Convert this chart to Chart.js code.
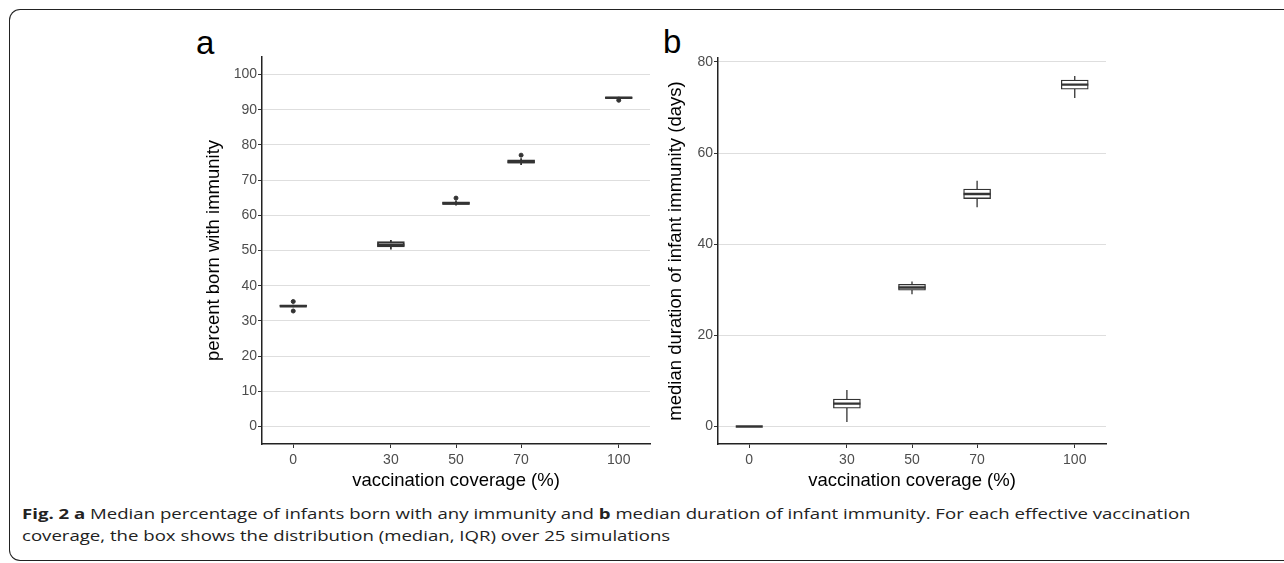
<!DOCTYPE html>
<html>
<head>
<meta charset="utf-8">
<script src="https://cdn.jsdelivr.net/npm/chart.js@4/dist/chart.umd.min.js"></script>
<style>
  body { margin: 0; background: #fff; width: 1284px; height: 563px; overflow: hidden; position: relative; font-family: "Liberation Sans", Arial, sans-serif; }
  .marco { position: absolute; left: 9px; top: 9px; width: 1300px; height: 550px; border: 1.5px solid #222; border-right: none; border-radius: 11px; }
  .letra { position: absolute; font-size: 33px; line-height: 33px; color: #000; }
  canvas { position: absolute; }
  .pie { position: absolute; left: 22px; top: 502px; font-family: "Open Sans", sans-serif; font-size: 15px; line-height: 22px; color: #222; white-space: nowrap; transform: scaleX(1.24); transform-origin: 0 0; }
  .pie b { font-weight: 700; }
</style>
</head>
<body>
<div class="marco"></div>
<div class="letra" style="left:196px; top:26px;">a</div>
<div class="letra" style="left:663px; top:25px;">b</div>
<canvas id="graficoA" width="470" height="472" style="left:195px; top:20px;"></canvas>
<canvas id="graficoB" width="460" height="472" style="left:660px; top:20px;"></canvas>
<div class="pie"><b>Fig. 2 a</b> Median percentage of infants born with any immunity and <b>b</b> median duration of infant immunity. For each effective vaccination<br>coverage, the box shows the distribution (median, IQR) over 25 simulations</div>

<script>
// 1. Datos
const cobertura = [0, 30, 50, 70, 100];

// panel a: porcentaje nacido con inmunidad
const aMin     = [33.9, 50.3, 62.8, 74.3, 93.1];
const aQ1      = [34.1, 51.0, 63.1, 74.8, 93.2];
const aMediana = [34.2, 51.6, 63.4, 75.2, 93.4];
const aQ3      = [34.4, 52.5, 63.8, 75.8, 93.6];
const aMax     = [34.6, 53.0, 64.2, 76.2, 93.7];
const aAtipicos = [[35.5, 32.8], [], [64.9], [77.1], [92.7]];

// panel b: duracion mediana de la inmunidad (dias)
const bMin     = [0, 1.0, 29.0, 48.1, 72.1];
const bQ1      = [0, 4.0, 29.9, 50.0, 74.0];
const bMediana = [0, 5.0, 30.5, 51.0, 75.0];
const bQ3      = [0, 6.0, 31.2, 52.1, 76.0];
const bMax     = [0, 8.0, 31.8, 53.9, 76.9];
const bAtipicos = [[], [], [], [], []];

const ticksX = [0, 30, 50, 70, 100];
const ticksYA = [0, 10, 20, 30, 40, 50, 60, 70, 80, 90, 100];
const ticksYB = [0, 20, 40, 60, 80];

const mediaCaja = 4.15; // media anchura de la caja en unidades de x

// 2. Construccion de datasets
function segmentos(desde, hasta, fx1, fx2) {
    const puntos = [];
    cobertura.forEach(function(c, i) {
        puntos.push({ x: fx1(c), y: desde[i] });
        puntos.push({ x: fx2(c), y: hasta[i] });
        puntos.push({ x: c, y: null });
    });
    return puntos;
}

function crearGrafico(id, d) {
    const ctx = document.getElementById(id).getContext('2d');
    const atipicos = [];
    d.atipicos.forEach(function(lista, i) {
        lista.forEach(function(v) { atipicos.push({ x: cobertura[i], y: v }); });
    });

    return new Chart(ctx, {
        data: {
            datasets: [
                {
                    type: 'line',
                    data: segmentos(d.min, d.max, c => c, c => c),
                    borderColor: '#333',
                    borderWidth: d.linea,
                    pointRadius: 0,
                    spanGaps: false,
                    order: 4
                },
                {
                    type: 'bar',
                    data: cobertura.map((c, i) => ({ x: c, y: [d.q1[i], d.q3[i]] })),
                    backgroundColor: '#fff',
                    borderColor: '#333',
                    borderWidth: d.linea,
                    borderSkipped: false,
                    barThickness: 27,
                    order: 3
                },
                {
                    type: 'line',
                    data: segmentos(d.mediana, d.mediana, c => c - mediaCaja, c => c + mediaCaja),
                    borderColor: '#333',
                    borderWidth: d.lineaMediana,
                    pointRadius: 0,
                    spanGaps: false,
                    order: 2
                },
                {
                    type: 'scatter',
                    data: atipicos,
                    backgroundColor: '#333',
                    borderColor: '#333',
                    pointRadius: 2,
                    order: 1
                }
            ]
        },
        options: {
            responsive: false,
            animation: false,
            layout: { padding: { top: d.arriba, right: d.derecha, left: 0, bottom: 0 } },
            plugins: { legend: { display: false }, tooltip: { enabled: false } },
            scales: {
                x: {
                    type: 'linear',
                    min: -9.6,
                    max: 109.6,
                    offset: false,
                    afterBuildTicks: function(scale) { scale.ticks = ticksX.map(v => ({ value: v })); },
                    afterFit: function(scale) { scale.height = 48; },
                    grid: { offset: false, drawOnChartArea: false, tickColor: '#333', tickLength: 4 },
                    border: { display: true, color: '#222', width: 1.5 },
                    ticks: { color: '#4d4d4d', font: { family: 'Liberation Sans', size: 14 }, padding: 4, maxRotation: 0 },
                    title: { display: true, text: 'vaccination coverage (%)', color: '#000', font: { family: 'Liberation Sans', size: 18.5 }, padding: 0 }
                },
                y: {
                    type: 'linear',
                    min: d.yMin,
                    max: d.yMax,
                    afterBuildTicks: function(scale) { scale.ticks = d.ticksY.map(v => ({ value: v })); },
                    afterFit: function(scale) { scale.width = d.anchoY; },
                    grid: { color: '#dedede', lineWidth: 1, tickColor: '#333', tickLength: 4 },
                    border: { display: true, color: '#222', width: 1.5 },
                    ticks: { color: '#4d4d4d', font: { family: 'Liberation Sans', size: 14 }, padding: 1 },
                    title: { display: true, text: d.tituloY, color: '#000', font: { family: 'Liberation Sans', size: 18.5 }, padding: { top: d.padTitulo, bottom: 0 } }
                }
            }
        }
    });
}

// 3. Graficos
crearGrafico('graficoA', {
    min: aMin, q1: aQ1, mediana: aMediana, q3: aQ3, max: aMax, atipicos: aAtipicos,
    yMin: -5, yMax: 105, ticksY: ticksYA, tituloY: 'percent born with immunity',
    anchoY: 67, padTitulo: 8, arriba: 37, derecha: 15, linea: 1.8, lineaMediana: 2.6
});

crearGrafico('graficoB', {
    min: bMin, q1: bQ1, mediana: bMediana, q3: bQ3, max: bMax, atipicos: bAtipicos,
    yMin: -3.85, yMax: 80.85, ticksY: ticksYB, tituloY: 'median duration of infant immunity (days)',
    anchoY: 58, padTitulo: 5, arriba: 38, derecha: 14, linea: 1.3, lineaMediana: 2.4
});
</script>
</body>
</html>
